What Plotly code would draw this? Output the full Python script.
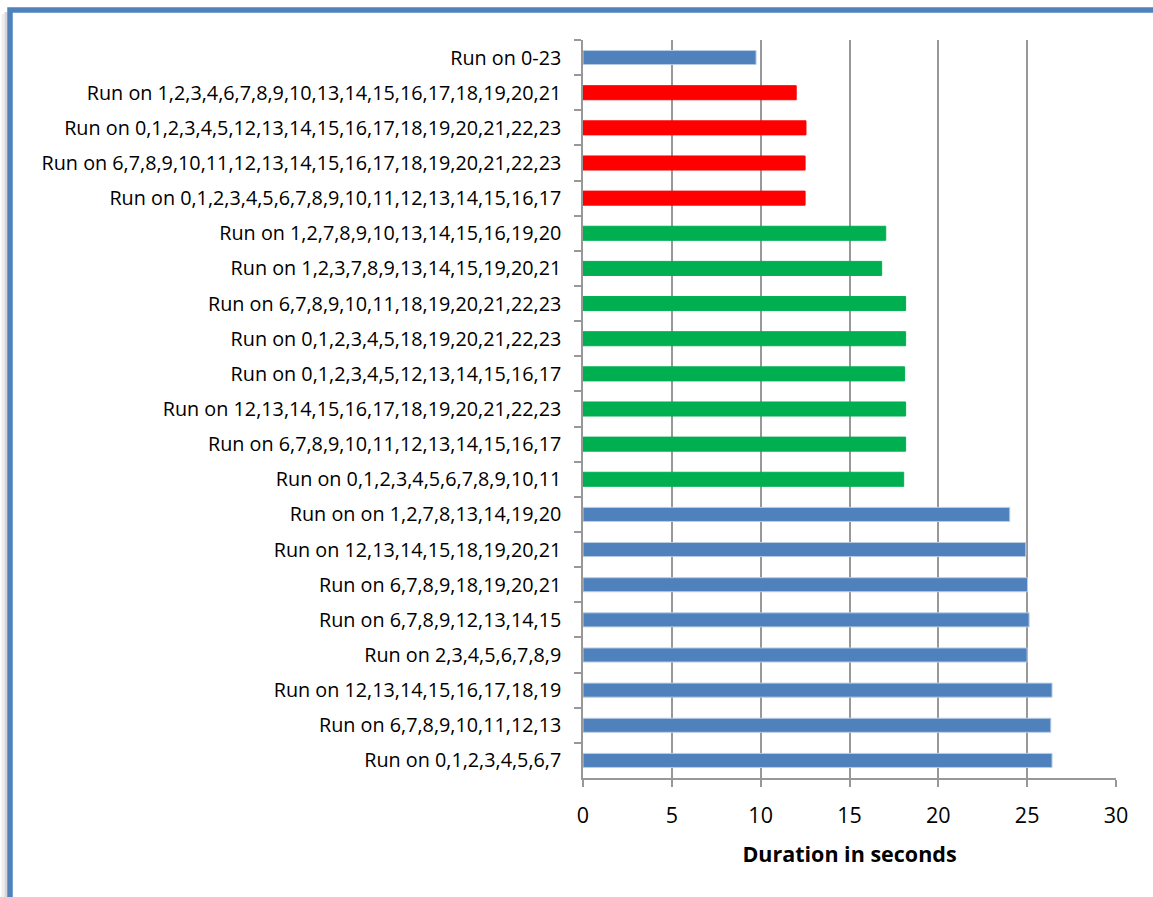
import plotly.graph_objects as go

# Runs listed top to bottom, with the measured duration of each
runs = [
    "Run on 0-23",
    "Run on 1,2,3,4,6,7,8,9,10,13,14,15,16,17,18,19,20,21",
    "Run on 0,1,2,3,4,5,12,13,14,15,16,17,18,19,20,21,22,23",
    "Run on 6,7,8,9,10,11,12,13,14,15,16,17,18,19,20,21,22,23",
    "Run on 0,1,2,3,4,5,6,7,8,9,10,11,12,13,14,15,16,17",
    "Run on 1,2,7,8,9,10,13,14,15,16,19,20",
    "Run on 1,2,3,7,8,9,13,14,15,19,20,21",
    "Run on 6,7,8,9,10,11,18,19,20,21,22,23",
    "Run on 0,1,2,3,4,5,18,19,20,21,22,23",
    "Run on 0,1,2,3,4,5,12,13,14,15,16,17",
    "Run on 12,13,14,15,16,17,18,19,20,21,22,23",
    "Run on 6,7,8,9,10,11,12,13,14,15,16,17",
    "Run on 0,1,2,3,4,5,6,7,8,9,10,11",
    "Run on on 1,2,7,8,13,14,19,20",
    "Run on 12,13,14,15,18,19,20,21",
    "Run on 6,7,8,9,18,19,20,21",
    "Run on 6,7,8,9,12,13,14,15",
    "Run on 2,3,4,5,6,7,8,9",
    "Run on 12,13,14,15,16,17,18,19",
    "Run on 6,7,8,9,10,11,12,13",
    "Run on 0,1,2,3,4,5,6,7",
]
durations = [
    9.74,
    12.0, 12.55, 12.5, 12.5,
    17.04, 16.81, 18.16, 18.16, 18.1, 18.16, 18.16, 18.05,
    24.02, 24.92, 25.02, 25.11, 25.0, 26.4, 26.33, 26.4,
]
# Number of cores used by each run
core_counts = [24, 18, 18, 18, 18, 12, 12, 12, 12, 12, 12, 12, 12,
               8, 8, 8, 8, 8, 8, 8, 8]
x_ticks = [0, 5, 10, 15, 20, 25, 30]

palette = {24: "#4F81BD", 18: "#FF0000", 12: "#00B050", 8: "#4F81BD"}
outline = {24: "#B9CDE5", 18: "#FF0000", 12: "#00B050", 8: "#B9CDE5"}

W, H = 1153, 897
L, R, T, B = 583, 37, 40, 119
pw, ph = W - L - R, H - T - B


def px(x):
    return (x - L) / pw


def py(y):
    return 1 - (y - T) / ph


fig = go.Figure(go.Bar(
    x=durations,
    y=runs,
    orientation="h",
    marker=dict(
        color=[palette[c] for c in core_counts],
        line=dict(color=[outline[c] for c in core_counts], width=1),
    ),
    width=0.4,
    hoverinfo="x+y",
))

font_family = "Open Sans"

fig.update_layout(
    width=W,
    height=H,
    margin=dict(l=L, r=R, t=T, b=B, autoexpand=False),
    paper_bgcolor="white",
    plot_bgcolor="white",
    showlegend=False,
    font=dict(family=font_family, color="#000000"),
    xaxis=dict(
        range=[0, 30],
        tickvals=x_ticks,
        ticktext=[str(v) for v in x_ticks],
        showgrid=True,
        gridcolor="#989898",
        gridwidth=1.5,
        zeroline=False,
        showline=True,
        linecolor="#989898",
        linewidth=1.5,
        ticks="outside",
        ticklen=7,
        tickwidth=1.5,
        tickcolor="#989898",
        tickfont=dict(size=21.5, family=font_family),
        ticklabelstandoff=10,
        title=dict(text="<b>Duration in seconds</b>",
                   font=dict(size=21.5, family=font_family), standoff=19),
        automargin=False,
        fixedrange=True,
    ),
    yaxis=dict(
        autorange="reversed",
        type="category",
        showgrid=False,
        zeroline=False,
        showline=True,
        linecolor="#989898",
        linewidth=1.5,
        ticks="outside",
        tickson="boundaries",
        ticklen=7,
        tickwidth=1.5,
        tickcolor="#989898",
        tickfont=dict(size=19.8, family=font_family),
        ticklabelstandoff=16,
        automargin=False,
        fixedrange=True,
    ),
    shapes=[
        # soft shadow along the left edge of the frame
        dict(type="line", xref="paper", yref="paper",
             x0=px(3), x1=px(3), y0=py(14), y1=py(H + 10),
             line=dict(color="#EFEFEF", width=3)),
        dict(type="line", xref="paper", yref="paper",
             x0=px(6), x1=px(6), y0=py(12), y1=py(H + 10),
             line=dict(color="#D6D6D6", width=3)),
        # chart frame
        dict(type="rect", xref="paper", yref="paper",
             x0=px(10), x1=px(W + 20), y0=py(10), y1=py(H + 20),
             line=dict(color="#4F81BD", width=5.5), fillcolor="rgba(0,0,0,0)"),
    ],
)

fig.write_html("out.html", config={"displayModeBar": False})
